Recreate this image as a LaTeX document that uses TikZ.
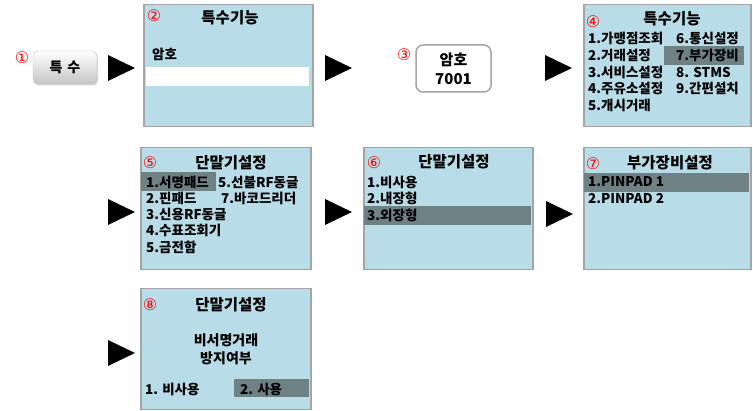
\documentclass[tikz,border=0pt]{standalone}
\usepackage{fontspec}
\setmainfont{Noto Sans CJK KR}
\newfontfamily\numfont{DejaVu Sans}
\usetikzlibrary{positioning,shadows}
\definecolor{lcd}{HTML}{B8DDE8}
\definecolor{sel}{HTML}{6E8286}
\definecolor{frame}{HTML}{A4A4A4}
\tikzstyle{screen}=[draw=frame,line width=1.5pt,fill=lcd,anchor=north west,inner sep=0pt]
\tikzstyle{bar}=[fill=#1,anchor=north west,inner sep=0pt]
\tikzstyle{row}=[anchor=west,inner sep=0pt,font=\fontsize{13.5}{13.5}\selectfont\bfseries]
\tikzstyle{title}=[inner sep=0pt,font=\fontsize{15.5}{15.5}\selectfont\bfseries]
\tikzstyle{num}=[inner sep=0pt,text=red,font=\fontsize{16}{16}\selectfont\numfont]
\newcommand{\screen}[5]{\node[screen,minimum width=#4,minimum height=#5] (#1) at (#2,#3) {};}
\newcommand{\selbar}[6]{\node[bar=#6,minimum width=#4,minimum height=#5] (#1) at (#2,#3) {};}
\newcommand{\play}[2]{\fill[black] (#1,#2) -- ++(27,13) -- ++(-27,13) -- cycle;}

\begin{document}
\begin{tikzpicture}[x=1pt,y=-1pt]
    \useasboundingbox (0,0) rectangle (753,411);
    % step 1: key
    \node[num] (n1) at (22,58) {①};
    \node[draw=gray!45,rounded corners=5pt,top color=white,bottom color=gray!45,
          drop shadow={opacity=0.35,shadow xshift=1pt,shadow yshift=-1.5pt},
          minimum width=64,minimum height=33,font=\fontsize{14}{14}\selectfont\bfseries] (key) at (65,67.5) {특\hspace{5pt}수};
    \play{108}{55}
    % step 2
    \screen{s2}{143}{4}{169}{122}
    \node[num] (n2) at (154,16) {②};
    \node[title] (t2) at (230,18) {특수기능};
    \node[row] (s2r1) at (152,54) {암호};
    \selbar{s2in}{146}{67}{163}{19}{white}
    \play{325}{55}
    % step 3: password
    \node[num] (n3) at (404,55) {③};
    \node[draw=frame,line width=1.5pt,rounded corners=7pt,fill=white,minimum width=75,minimum height=47,
          align=center,font=\fontsize{15}{19}\selectfont\bfseries] (pw) at (453.5,68.5) {암호\\7001};
    \play{545}{55}
    % step 4
    \screen{s4}{583}{4}{167}{122}
    \selbar{s4h}{664}{46}{80}{19}{sel}
    \node[num] (n4) at (593,22) {④};
    \node[title] (t4) at (672,19) {특수기능};
    \node[row] (s4r1) at (588,38) {1.가맹점조회};
    \node[row] (s4r2) at (588,55) {2.거래설정};
    \node[row] (s4r3) at (588,72) {3.서비스설정};
    \node[row] (s4r4) at (588,88) {4.주유소설정};
    \node[row] (s4r5) at (588,105) {5.개시거래};
    \node[row] (s4r6) at (676,38) {6.통신설정};
    \node[row] (s4r7) at (676,55) {7.부가장비};
    \node[row] (s4r8) at (676,72) {8. STMS};
    \node[row] (s4r9) at (676,88) {9.간편설치};
    % step 5
    \play{108}{199}
    \screen{s5}{140}{147}{170}{122}
    \selbar{s5h}{141}{172}{75}{19}{sel}
    \node[num] (n5) at (150,163) {⑤};
    \node[title] (t5) at (231,163) {단말기설정};
    \node[row] (s5r1) at (146,182) {1.서명패드};
    \node[row] (s5r2) at (146,198) {2.핀패드};
    \node[row] (s5r3) at (146,214) {3.신용RF동글};
    \node[row] (s5r4) at (146,230) {4.수표조회기};
    \node[row] (s5r5) at (146,247) {5.금전함};
    \node[row] (s5r6) at (218,182) {5.선불RF동글};
    \node[row] (s5r7) at (221,198) {7.바코드리더};
    % step 6
    \play{325}{199}
    \screen{s6}{363}{147}{169}{122}
    \selbar{s6h}{364}{206}{167}{19}{sel}
    \node[num] (n6) at (374,163) {⑥};
    \node[title] (t6) at (454,162) {단말기설정};
    \node[row] (s6r1) at (367,182) {1.비사용};
    \node[row] (s6r2) at (367,198) {2.내장형};
    \node[row] (s6r3) at (367,215) {3.외장형};
    % step 7
    \play{546}{201}
    \screen{s7}{583}{147}{167}{122}
    \selbar{s7h}{584}{173}{165}{19}{sel}
    \node[num] (n7) at (593,164) {⑦};
    \node[title] (t7) at (670,163) {부가장비설정};
    \node[row] (s7r1) at (588,182) {1.PINPAD 1};
    \node[row] (s7r2) at (588,199) {2.PINPAD 2};
    % step 8
    \play{108}{340}
    \screen{s8}{140}{288}{170}{121}
    \selbar{s8h}{234}{379}{75}{18}{sel}
    \node[num] (n8) at (150,305) {⑧};
    \node[title] (t8) at (231,305) {단말기설정};
    \node[title,align=center,font=\fontsize{14}{18}\selectfont\bfseries] (s8q) at (226,349) {비서명거래\\방지여부};
    \node[row] (s8r1) at (145,389) {1. 비사용};
    \node[row] (s8r2) at (240,389) {2. 사용};
\end{tikzpicture}
\end{document}
